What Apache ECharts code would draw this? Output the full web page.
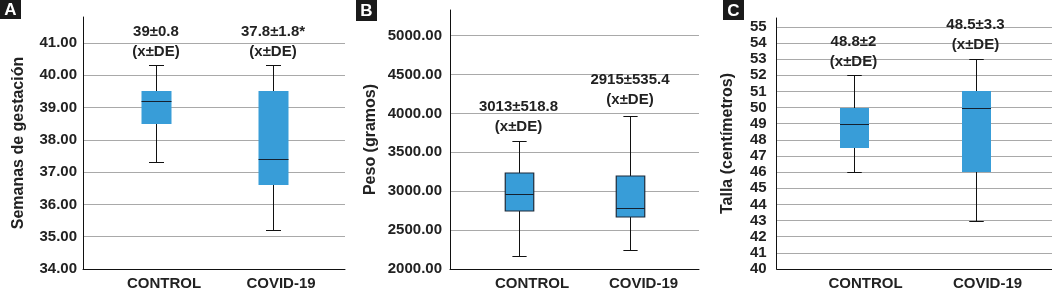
<!DOCTYPE html>
<html>
<head>
<meta charset="utf-8">
<script src="https://cdn.jsdelivr.net/npm/echarts@6/dist/echarts.min.js"></script>
<style>
  html, body { margin: 0; padding: 0; background: #fff; }
  #chart { width: 1052px; height: 291px; }
</style>
</head>
<body>
<div id="chart"></div>
<script>
  const categories = ['CONTROL', 'COVID-19']

  // [min, Q1, mediana, Q3, max]
  const gestacionBox = [[37.3, 38.5, 39.2, 39.5, 40.3], [35.2, 36.6, 37.4, 39.5, 40.3]]
  const pesoBox = [[2167, 2750, 2965, 3235, 3646], [2248, 2669, 2784, 3200, 3968]]
  const tallaBox = [[46, 47.5, 49, 50, 52], [43, 46, 50, 51, 53]]

  const gestacionNotes = ['39±0.8\n(x±DE)', '37.8±1.8*\n(x±DE)']
  const pesoNotes = ['3013±518.8\n(x±DE)', '2915±535.4\n(x±DE)']
  const tallaNotes = ['48.8±2\n(x±DE)', '48.5±3.3\n(x±DE)']
  // posicion vertical (en unidades del eje) de cada nota
  const gestacionNoteY = [41.04, 41.04]
  const pesoNoteY = [3958, 4299]
  const tallaNoteY = [53.47, 54.53]

  const FONT = 'Arial, "Liberation Sans", sans-serif'
  const TXT = '#222'

  const panels = [
    { letter: 'A', name: 'Semanas de gestación', min: 34, max: 41.8, interval: 1, digits: 2,
      box: gestacionBox, notes: gestacionNotes, noteY: gestacionNoteY,
      frameLeft: 83, frameWidth: 262, innerLeft: 97.5, innerWidth: 234, top: 17, height: 252,
      nameGap: 56, labelMargin: 6, catPad: 16, boxW: 30, border: null,
      letterBox: [0, 0, 21, 19] },
    { letter: 'B', name: 'Peso (gramos)', min: 2000, max: 5330, interval: 500, digits: 2,
      box: pesoBox, notes: pesoNotes, noteY: pesoNoteY,
      frameLeft: 450, frameWidth: 249, innerLeft: 462.75, innerWidth: 223, top: 10, height: 259,
      nameGap: 71, labelMargin: 8, catPad: 27, boxW: 28.5, border: '#1d2b3a',
      letterBox: [356, 0, 21, 21] },
    { letter: 'C', name: 'Talla (centímetros)', min: 40, max: 55.55, interval: 1, digits: 0,
      box: tallaBox, notes: tallaNotes, noteY: tallaNoteY,
      frameLeft: 776.7, frameWidth: 275.3, innerLeft: 792.5, innerWidth: 244, top: 18, height: 251,
      nameGap: 41, labelMargin: 10, catPad: 24, boxW: 29, border: null,
      letterBox: [723, 0, 21, 20] }
  ]

  function boxRenderer(boxW, border) {
    return function (params, api) {
      const c = api.value(0)
      const p = [1, 2, 3, 4, 5].map(i => api.coord([c, api.value(i)]))
      const x = Math.round(p[0][0]) + 0.5
      const hw = boxW / 2
      const cw = boxW / 4
      const line = (x1, y1, x2, y2, color) => ({
        type: 'line',
        shape: { x1: x1, y1: y1, x2: x2, y2: y2 },
        style: { stroke: color || '#111', lineWidth: 1 }
      })
      const yMin = Math.round(p[0][1]) + 0.5
      const yQ1 = Math.round(p[1][1])
      const yMed = Math.round(p[2][1]) + 0.5
      const yQ3 = Math.round(p[3][1])
      const yMax = Math.round(p[4][1]) + 0.5
      return {
        type: 'group',
        children: [
          line(x, yMax, x, yQ3),
          line(x, yQ1, x, yMin),
          line(x - cw, yMax, x + cw, yMax),
          line(x - cw, yMin, x + cw, yMin),
          {
            type: 'rect',
            shape: { x: x - hw, y: yQ3, width: boxW, height: yQ1 - yQ3 },
            style: { fill: '#389dd8', stroke: border || 'none', lineWidth: border ? 1.2 : 0 }
          },
          line(x - hw, yMed, x + hw, yMed, '#15202e')
        ]
      }
    }
  }

  const grid = []
  const xAxis = []
  const yAxis = []
  const series = []
  const graphic = []

  panels.forEach((pn, k) => {
    const gFrame = k * 2
    const gInner = k * 2 + 1
    grid.push({ left: pn.frameLeft, width: pn.frameWidth, top: pn.top, height: pn.height,
      containLabel: false, outerBoundsMode: 'none' })
    grid.push({ left: pn.innerLeft, width: pn.innerWidth, top: pn.top, height: pn.height,
      containLabel: false, outerBoundsMode: 'none' })

    xAxis.push({
      gridIndex: gFrame, type: 'category', data: categories,
      axisLine: { show: true, lineStyle: { color: '#111', width: 1 } },
      axisTick: { show: false }, axisLabel: { show: false }, splitLine: { show: false }
    })
    xAxis.push({
      gridIndex: gInner, type: 'category', data: categories,
      axisLine: { show: false }, axisTick: { show: false },
      axisLabel: { margin: 7, fontSize: 15, fontWeight: 'bold', color: TXT, fontFamily: FONT,
        padding: [0, 0, 0, pn.catPad] }
    })

    yAxis.push({
      gridIndex: gFrame, type: 'value', min: pn.min, max: pn.max, interval: pn.interval,
      name: pn.name, nameLocation: 'middle', nameGap: pn.nameGap, nameMoveOverlap: false,
      nameTextStyle: { fontSize: 16, fontWeight: 'bold', color: TXT, fontFamily: FONT },
      axisLine: { show: true, lineStyle: { color: '#111', width: 1 } },
      axisTick: { show: false },
      axisLabel: {
        margin: pn.labelMargin, fontSize: 15, fontWeight: 'bold', color: TXT, fontFamily: FONT,
        showMaxLabel: false, showMinLabel: true,
        formatter: v => v.toFixed(pn.digits)
      },
      splitLine: { show: true, showMaxLine: false, showMinLine: false,
        lineStyle: { color: '#a9a9a9', width: 1 } }
    })
    yAxis.push({
      gridIndex: gInner, type: 'value', min: pn.min, max: pn.max, interval: pn.interval,
      show: false, splitLine: { show: false }
    })

    series.push({
      type: 'custom', xAxisIndex: gInner, yAxisIndex: gInner,
      renderItem: boxRenderer(pn.boxW, pn.border),
      encode: { x: 0, y: [1, 2, 3, 4, 5] },
      data: pn.box.map((d, i) => [i].concat(d)),
      z: 3
    })
    series.push({
      type: 'scatter', xAxisIndex: gInner, yAxisIndex: gInner,
      symbolSize: 1, itemStyle: { color: 'rgba(0,0,0,0)' },
      data: pn.noteY.map((y, i) => [i, y]),
      label: {
        show: true, position: 'inside',
        formatter: p => pn.notes[p.dataIndex],
        fontSize: 15, fontWeight: 'bold', lineHeight: 20, color: TXT, fontFamily: FONT,
        textBorderWidth: 0, textBorderColor: 'transparent', opacity: 1
      },
      emphasis: { disabled: true },
      silent: true, z: 4
    })

    const b = pn.letterBox
    graphic.push({ type: 'rect', shape: { x: b[0], y: b[1], width: b[2], height: b[3] },
      style: { fill: '#1a1a1a' } })
    graphic.push({ type: 'text', x: b[0] + b[2] / 2, y: b[1] + b[3] / 2 + 1,
      style: { text: pn.letter, align: 'center', verticalAlign: 'middle', fill: '#fff',
        font: 'bold 17px ' + FONT } })
  })

  const chart = echarts.init(document.getElementById('chart'), null, { renderer: 'canvas' })
  chart.setOption({
    animation: false,
    backgroundColor: '#fff',
    grid: grid,
    xAxis: xAxis,
    yAxis: yAxis,
    series: series,
    graphic: graphic
  })
</script>
</body>
</html>
